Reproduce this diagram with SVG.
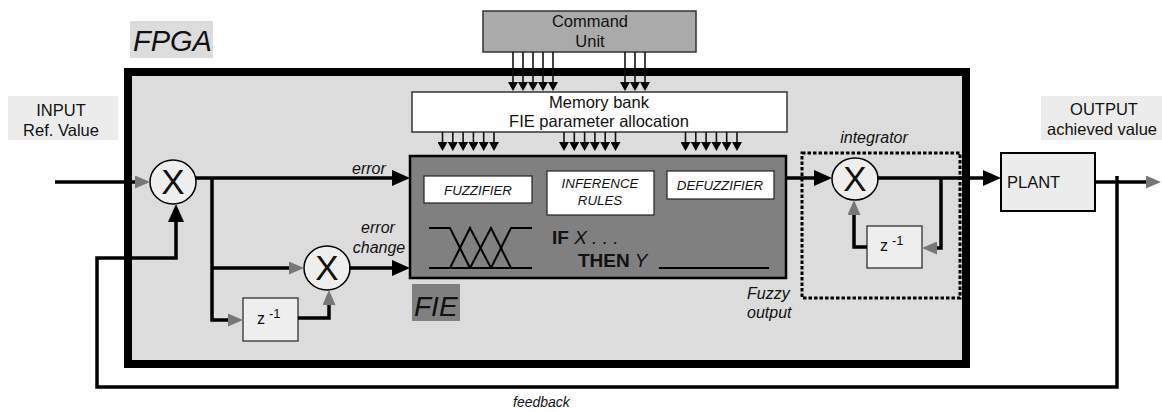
<svg xmlns="http://www.w3.org/2000/svg" width="1162" height="412" viewBox="0 0 1162 412">
  <style>
    text { font-family: "Liberation Sans", Arial, Helvetica, sans-serif; fill: #111; }
    .lbl { font-size: 16.5px; text-anchor: middle; }
    .it { font-size: 16px; font-style: italic; }
    .blk { font-size: 13.3px; font-style: italic; text-anchor: middle; }
    .sum { font-size: 35px; text-anchor: middle; }
    .zz { font-size: 16px; }
    .wire { fill: none; stroke: #000; stroke-width: 3.5; stroke-linejoin: miter; }
    .bus { fill: none; stroke: #111; stroke-width: 1.6; }
    .circ { fill: #eeeeee; stroke: #000; stroke-width: 1.5; }
    .zbox { fill: #eeeeee; stroke: #222; stroke-width: 1.2; }
    .mf { fill: none; stroke: #000; stroke-width: 2; }
  </style>
  <defs>
    <marker id="ah" viewBox="0 0 18 16" refX="0" refY="8" markerWidth="18" markerHeight="16" markerUnits="userSpaceOnUse" orient="auto">
      <path d="M0,0 L18,8 L0,16 z" fill="#000"/>
    </marker>
    <marker id="ahg" viewBox="0 0 15 13" refX="0" refY="6.5" markerWidth="15" markerHeight="13" markerUnits="userSpaceOnUse" orient="auto">
      <path d="M0,0 L15,6.5 L0,13 z" fill="#777"/>
    </marker>
    <marker id="ahs" viewBox="0 0 9 10" refX="0" refY="5" markerWidth="9" markerHeight="10" markerUnits="userSpaceOnUse" orient="auto">
      <path d="M0,0 L9,5 L0,10 z" fill="#000"/>
    </marker>
  </defs>

  <!-- FPGA enclosure -->
  <g id="fpga">
    <rect x="130" y="21" width="83" height="37" fill="#dcdcdc"/>
    <text x="133" y="51" style="font-size:29px;font-style:italic">FPGA</text>
    <rect x="128" y="72" width="838" height="292" fill="#dcdcdc" stroke="#000" stroke-width="8"/>
  </g>

  <!-- input / output captions -->
  <g id="input-label">
    <rect x="8" y="96" width="110" height="44" fill="#ececec"/>
    <text class="lbl" x="61" y="116">INPUT</text>
    <text class="lbl" x="61" y="136">Ref. Value</text>
  </g>
  <g id="output-label">
    <rect x="1041" y="96" width="121" height="44" fill="#ececec"/>
    <text class="lbl" x="1104" y="115">OUTPUT</text>
    <text class="lbl" x="1102" y="135">achieved value</text>
  </g>

  <!-- command unit -->
  <g id="command-unit">
    <rect x="483" y="11" width="213" height="41" fill="#aaaaaa" stroke="#333" stroke-width="1.5"/>
    <text class="lbl" x="590" y="27">Command</text>
    <text class="lbl" x="590" y="47">Unit</text>
  </g>

  <!-- memory bank -->
  <g id="memory-bank">
    <rect x="412" y="92" width="375" height="40" fill="#fff" stroke="#333" stroke-width="1.5"/>
    <text class="lbl" x="599" y="108">Memory bank</text>
    <text class="lbl" x="599" y="127">FIE parameter allocation</text>
  </g>

  <!-- fuzzy inference engine -->
  <g id="fie">
    <rect x="410" y="156" width="376" height="122" fill="#808080" stroke="#000" stroke-width="2.5"/>
    <rect x="424" y="176" width="108" height="27" fill="#fff" stroke="#222" stroke-width="1.2"/>
    <text class="blk" x="478" y="195">FUZZIFIER</text>
    <rect x="547" y="171" width="107" height="44" fill="#fff" stroke="#222" stroke-width="1.2"/>
    <text class="blk" x="600" y="188">INFERENCE</text>
    <text class="blk" x="600" y="205">RULES</text>
    <rect x="667" y="171" width="107" height="28" fill="#fff" stroke="#222" stroke-width="1.2"/>
    <text class="blk" x="720" y="190">DEFUZZIFIER</text>
    <!-- membership functions -->
    <path class="mf" d="M429,268 H532"/>
    <path class="mf" d="M429,228 H450 L470,268"/>
    <path class="mf" d="M450,268 L470,228 L491,268"/>
    <path class="mf" d="M470,268 L491,228 L511,268"/>
    <path class="mf" d="M491,268 L511,228 H532"/>
    <!-- rule template -->
    <text x="552" y="244" style="font-size:19px"><tspan font-weight="bold">IF</tspan><tspan font-style="italic"> X . . .</tspan></text>
    <text x="578" y="267" style="font-size:19px"><tspan font-weight="bold">THEN</tspan><tspan font-style="italic"> Y</tspan></text>
    <path class="mf" d="M659,268 H769"/>
    <rect x="412" y="284" width="48" height="37" fill="#808080"/>
    <text x="414" y="316" style="font-size:28px;font-style:italic">FIE</text>
  </g>

  <!-- integrator -->
  <g id="integrator">
    <rect x="802" y="153" width="158" height="145" fill="none" stroke="#000" stroke-width="3" stroke-dasharray="3.5 2"/>
    <text class="it" x="874" y="143" text-anchor="middle">integrator</text>
  </g>

  <!-- summing / multiplying junctions -->
  <g id="junction-input">
    <ellipse class="circ" cx="173" cy="182" rx="23" ry="22"/>
    <text class="sum" x="173" y="194">X</text>
  </g>
  <g id="junction-change">
    <ellipse class="circ" cx="327" cy="268" rx="23" ry="22"/>
    <text class="sum" x="327" y="280">X</text>
  </g>
  <g id="junction-integrator">
    <ellipse class="circ" cx="855" cy="179" rx="23" ry="21"/>
    <text class="sum" x="855" y="191">X</text>
  </g>

  <!-- unit delays -->
  <g id="delay-error">
    <rect class="zbox" x="243" y="298" width="55" height="43"/>
    <text class="zz" x="257" y="324">z<tspan dx="4" dy="-6" font-size="13">-1</tspan></text>
  </g>
  <g id="delay-integrator">
    <rect class="zbox" x="867" y="226" width="55" height="42"/>
    <text class="zz" x="880" y="251">z<tspan dx="4" dy="-6" font-size="13">-1</tspan></text>
  </g>

  <!-- plant -->
  <g id="plant">
    <rect x="1001" y="153" width="94" height="58" fill="#ececec" stroke="#000" stroke-width="2"/>
    <text x="1007" y="188" style="font-size:16.5px">PLANT</text>
  </g>

  <!-- signal labels -->
  <g id="labels">
    <text class="it" x="352" y="174">error</text>
    <text class="it" x="378" y="233" text-anchor="middle">error</text>
    <text class="it" x="379" y="253" text-anchor="middle">change</text>
    <text class="it" x="747" y="299">Fuzzy</text>
    <text class="it" x="747" y="318">output</text>
    <text class="it" x="513" y="407" style="font-size:14px">feedback</text>
  </g>

  <!-- connectors -->
  <g id="connectors">
    <!-- command unit to memory bank -->
    <path class="bus" marker-end="url(#ahs)" d="M513,52 V82"/>
    <path class="bus" marker-end="url(#ahs)" d="M523,52 V82"/>
    <path class="bus" marker-end="url(#ahs)" d="M533,52 V82"/>
    <path class="bus" marker-end="url(#ahs)" d="M543,52 V82"/>
    <path class="bus" marker-end="url(#ahs)" d="M553,52 V82"/>
    <path class="bus" marker-end="url(#ahs)" d="M625,52 V82"/>
    <path class="bus" marker-end="url(#ahs)" d="M635,52 V82"/>
    <path class="bus" marker-end="url(#ahs)" d="M645,52 V82"/>
    <!-- memory bank to FIE blocks -->
    <path class="bus" marker-end="url(#ahs)" d="M442.5,132 V142"/>
    <path class="bus" marker-end="url(#ahs)" d="M452.8,132 V142"/>
    <path class="bus" marker-end="url(#ahs)" d="M463.1,132 V142"/>
    <path class="bus" marker-end="url(#ahs)" d="M473.4,132 V142"/>
    <path class="bus" marker-end="url(#ahs)" d="M483.7,132 V142"/>
    <path class="bus" marker-end="url(#ahs)" d="M494,132 V142"/>
    <path class="bus" marker-end="url(#ahs)" d="M564,132 V142"/>
    <path class="bus" marker-end="url(#ahs)" d="M574.3,132 V142"/>
    <path class="bus" marker-end="url(#ahs)" d="M584.6,132 V142"/>
    <path class="bus" marker-end="url(#ahs)" d="M594.9,132 V142"/>
    <path class="bus" marker-end="url(#ahs)" d="M605.2,132 V142"/>
    <path class="bus" marker-end="url(#ahs)" d="M615.5,132 V142"/>
    <path class="bus" marker-end="url(#ahs)" d="M685.5,132 V142"/>
    <path class="bus" marker-end="url(#ahs)" d="M695.8,132 V142"/>
    <path class="bus" marker-end="url(#ahs)" d="M706.1,132 V142"/>
    <path class="bus" marker-end="url(#ahs)" d="M716.4,132 V142"/>
    <path class="bus" marker-end="url(#ahs)" d="M726.7,132 V142"/>
    <path class="bus" marker-end="url(#ahs)" d="M737,132 V142"/>

    <!-- reference input -->
    <path class="wire" marker-end="url(#ahg)" d="M55,182 H135"/>
    <!-- error -->
    <path class="wire" marker-end="url(#ah)" d="M196,178 H392"/>
    <!-- error branches -->
    <path class="wire" marker-end="url(#ahg)" d="M212,178 V320 H228"/>
    <path class="wire" marker-end="url(#ahg)" d="M212,268 H289"/>
    <path class="wire" marker-end="url(#ahg)" d="M298,318 H329 V305"/>
    <!-- error change -->
    <path class="wire" marker-end="url(#ah)" d="M349,268 H392"/>
    <!-- fuzzy output into integrator -->
    <path class="wire" marker-end="url(#ah)" d="M786,178 H814"/>
    <!-- integrator output to plant -->
    <path class="wire" marker-end="url(#ah)" d="M877,178 H983"/>
    <!-- integrator loop -->
    <path class="wire" marker-end="url(#ahg)" d="M941,178 V248 H937"/>
    <path class="wire" marker-end="url(#ahg)" d="M867,247 H854 V215"/>
    <!-- plant output -->
    <path class="wire" marker-end="url(#ahg)" d="M1095,182 H1146"/>
    <!-- feedback loop -->
    <path class="wire" marker-end="url(#ah)" d="M1117,176 V387 H97 V258 H176 V222"/>
  </g>
</svg>
